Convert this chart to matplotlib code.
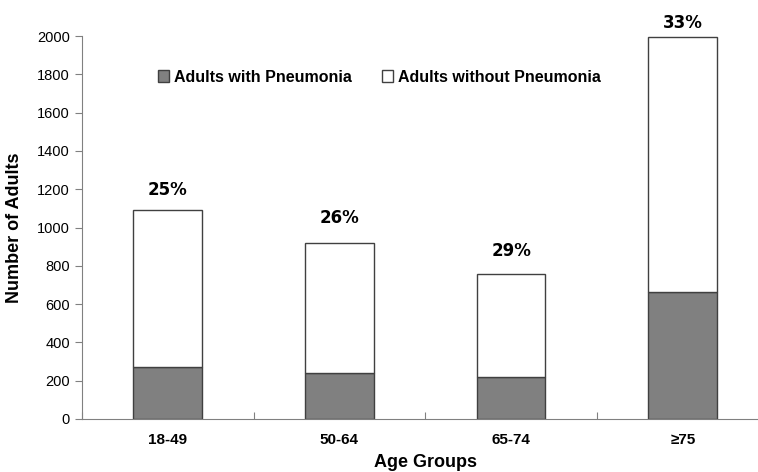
import matplotlib
matplotlib.use("Agg")
import matplotlib.pyplot as plt
import numpy as np

# Data
age_groups = ["18-49", "50-64", "65-74", "\u226575"]
with_pneumonia = [273, 239, 221, 663]
totals = [1093, 917, 756, 1993]
without_pneumonia = [t - w for t, w in zip(totals, with_pneumonia)]
pct_labels = ["25%", "26%", "29%", "33%"]
label_offsets = [8, 12, 10, 4]  # points above bar top

plt.rcParams['font.family'] = ['Liberation Sans', 'DejaVu Sans']

fig = plt.figure(figsize=(7.58, 4.72), dpi=100)
ax = fig.add_axes([0.108, 0.1123, 0.906, 0.8114])

x = np.arange(len(age_groups))
w = 0.40
ax.bar(x, with_pneumonia, w, color="#808080", edgecolor="#404040", linewidth=1.0,
       label="Adults with Pneumonia")
ax.bar(x, without_pneumonia, w, bottom=with_pneumonia, color="white",
       edgecolor="#404040", linewidth=1.0, label="Adults without Pneumonia")

for xi, tot, lab, off in zip(x, totals, pct_labels, label_offsets):
    ax.annotate(lab, (xi, tot), xytext=(0, off), textcoords="offset points",
                ha="center", va="bottom", fontsize=12, fontweight="bold",
                family="DejaVu Sans")

ax.set_xlim(-0.5, 3.5)
ax.set_ylim(0, 2000)
ax.set_yticks(range(0, 2001, 200))
ax.set_xticks(np.arange(-0.5, 3.6, 1.0), minor=False)
ax.set_xticklabels([])
ax.set_xticks(x, minor=True)
ax.set_xticklabels(age_groups, minor=True, fontsize=11, fontweight="bold")
ax.tick_params(axis="x", which="minor", length=0, pad=10)
ax.tick_params(axis="x", which="major", length=5, direction="in", color="#808080")
ax.tick_params(axis="y", length=5, direction="out", color="#808080", labelsize=10.5)

for s in ["top", "right"]:
    ax.spines[s].set_visible(False)
for s in ["left", "bottom"]:
    ax.spines[s].set_color("#808080")

ax.set_ylabel("Number of Adults", fontsize=13, fontweight="bold", labelpad=10)
ax.set_xlabel("Age Groups", fontsize=13, fontweight="bold", labelpad=5)

leg = ax.legend(loc="upper left", bbox_to_anchor=(0.09, 0.95), ncol=2, frameon=False,
                handlelength=0.7, handleheight=0.7, handletextpad=0.3,
                columnspacing=1.9, prop={"weight": "bold", "size": 11.5})

fig.savefig("out.png", dpi=100)
